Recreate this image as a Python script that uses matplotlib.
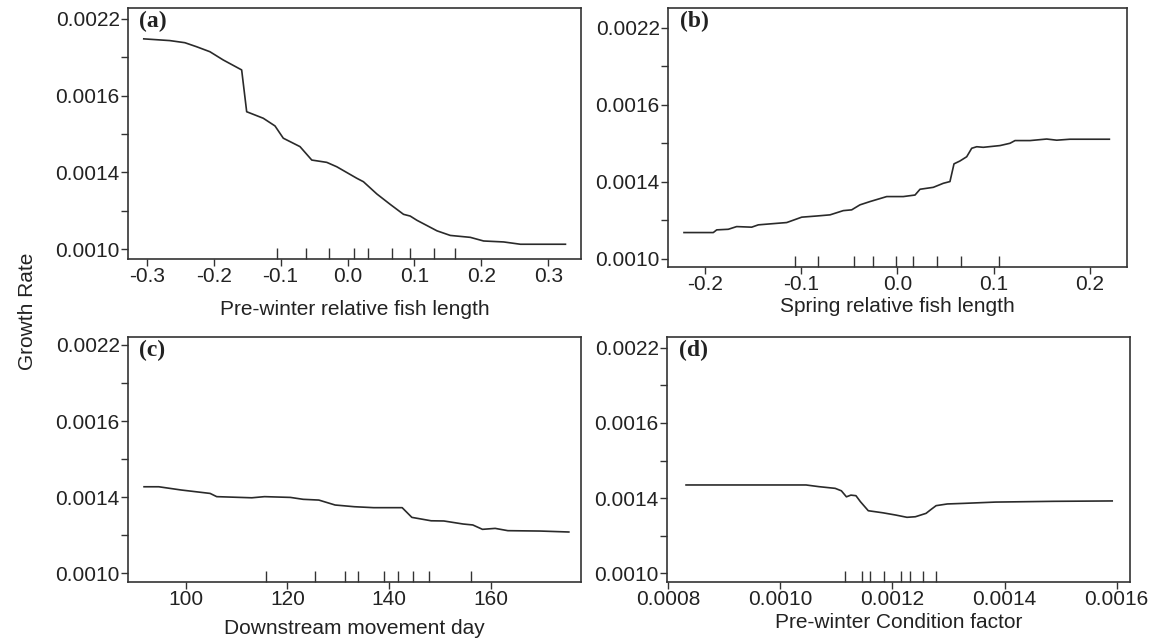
import numpy as np
import matplotlib
matplotlib.use("Agg")
import matplotlib.pyplot as plt
from matplotlib.ticker import FixedLocator

plt.rcParams['font.family'] = ['Liberation Sans', 'DejaVu Sans']

# y tick positions (equally spaced) and the labels as printed on the figure
Y_TICKS = [0.0010, 0.0014, 0.0018, 0.0022]
Y_LABELS = ['0.0010', '0.0014', '0.0016', '0.0022']
Y_MINOR = [0.0012, 0.0016, 0.0020]

# (a) pre-winter relative fish length
a_x = [-0.3045, -0.2656, -0.2431, -0.2256, -0.2057, -0.1858, -0.1582, -0.1507, -0.1259,
       -0.1084, -0.0960, -0.0710, -0.0534, -0.0310, -0.0160, 0.0139, 0.0238, 0.0439,
       0.0638, 0.0837, 0.0937, 0.1037, 0.1337, 0.1536, 0.1835, 0.2034, 0.2334, 0.2584, 0.3257]
a_y = [0.002096, 0.002087, 0.002076, 0.002055, 0.002029, 0.001986, 0.001934, 0.001716, 0.001682,
       0.001642, 0.001578, 0.001534, 0.001464, 0.001452, 0.001429, 0.001369, 0.001351, 0.001287,
       0.001233, 0.001181, 0.001172, 0.001150, 0.001095, 0.001071, 0.001061, 0.001042, 0.001037,
       0.001025, 0.001025]
a_rug = [-0.106, -0.062, -0.027, 0.010, 0.031, 0.067, 0.094, 0.130, 0.160]

# (b) spring relative fish length
b_x = [-0.2218, -0.1914, -0.1878, -0.1758, -0.1671, -0.1515, -0.1446, -0.1325, -0.1151, -0.0995,
       -0.0840, -0.0701, -0.0563, -0.0476, -0.0390, -0.0286, -0.0112, 0.0060, 0.0182, 0.0234,
       0.0372, 0.0476, 0.0545, 0.0587, 0.0649, 0.0719, 0.0771, 0.0823, 0.0891, 0.1065, 0.1169,
       0.1221, 0.1377, 0.1550, 0.1654, 0.1792, 0.2201]
b_y = [0.001137, 0.001137, 0.001151, 0.001154, 0.001168, 0.001165, 0.001177, 0.001182, 0.001189,
       0.001217, 0.001223, 0.001229, 0.001251, 0.001255, 0.001281, 0.001298, 0.001324, 0.001324,
       0.001332, 0.001362, 0.001372, 0.001393, 0.001402, 0.001494, 0.001509, 0.001531, 0.001575,
       0.001583, 0.001580, 0.001589, 0.001601, 0.001615, 0.001615, 0.001623, 0.001617, 0.001622,
       0.001622]
b_rug = [-0.1065, -0.0823, -0.0452, -0.0251, -0.0019, 0.0164, 0.0407, 0.0660, 0.1058]

# (c) downstream movement day
c_x = [91.8, 94.7, 99.1, 104.8, 106.1, 113.0, 115.5, 120.6, 123.1, 126.2, 129.4, 133.2,
       137.0, 142.6, 144.5, 148.3, 150.8, 154.6, 156.5, 158.4, 160.9, 163.4, 169.8, 175.4]
c_y = [0.001454, 0.001454, 0.001437, 0.001419, 0.001402, 0.001396, 0.001402, 0.001398,
       0.001388, 0.001384, 0.001358, 0.001349, 0.001344, 0.001344, 0.001293, 0.001275,
       0.001274, 0.001258, 0.001253, 0.001230, 0.001235, 0.001223, 0.001221, 0.001216]
c_rug = [115.8, 125.4, 131.3, 134.0, 139.1, 141.7, 144.8, 147.9, 156.1]

# (d) pre-winter condition factor
d_x = [0.000832, 0.001046, 0.001069, 0.001098, 0.001109, 0.001118, 0.001126, 0.001135,
       0.001143, 0.001157, 0.001183, 0.001206, 0.001226, 0.001241, 0.001260, 0.001269,
       0.001278, 0.001298, 0.001326, 0.001384, 0.001487, 0.001592]
d_y = [0.001470, 0.001470, 0.001461, 0.001452, 0.001439, 0.001407, 0.001416, 0.001413,
       0.001381, 0.001333, 0.001322, 0.001310, 0.001298, 0.001301, 0.001319, 0.001340,
       0.001360, 0.001369, 0.001372, 0.001379, 0.001383, 0.001385]
d_rug = [0.001115, 0.001146, 0.001160, 0.001185, 0.001200, 0.001216, 0.001231, 0.001255, 0.001277]

panels = [
    dict(tag='(a)', x=a_x, y=a_y, rug=a_rug, xlabel='Pre-winter relative fish length',
         xticks=[-0.3, -0.2, -0.1, 0.0, 0.1, 0.2, 0.3], fmt='{:.1f}',
         xlim=(-0.328, 0.349), ylim=(0.000948, 0.002257), lpad=10,
         pos=[0.1101, 0.5978, 0.3895, 0.3898]),
    dict(tag='(b)', x=b_x, y=b_y, rug=b_rug, xlabel='Spring relative fish length',
         xticks=[-0.2, -0.1, 0.0, 0.1, 0.2], fmt='{:.1f}',
         xlim=(-0.2384, 0.2385), ylim=(0.000958, 0.002304), lpad=2,
         pos=[0.5744, 0.5854, 0.3947, 0.4022]),
    dict(tag='(c)', x=c_x, y=c_y, rug=c_rug, xlabel='Downstream movement day',
         xticks=[100, 120, 140, 160], fmt='{:.0f}',
         xlim=(88.65, 177.8), ylim=(0.000953, 0.002242), lpad=7,
         pos=[0.1101, 0.0963, 0.3895, 0.3804]),
    dict(tag='(d)', x=d_x, y=d_y, rug=d_rug, xlabel='Pre-winter Condition factor',
         xticks=[0.0008, 0.0010, 0.0012, 0.0014, 0.0016], fmt='{:.4f}',
         xlim=(0.000798, 0.0016237), ylim=(0.000954, 0.002257), lpad=3,
         pos=[0.5735, 0.0963, 0.3981, 0.3804]),
]

fig = plt.figure(figsize=(11.63, 6.44), dpi=100)
txt = '#222222'

for p in panels:
    ax = fig.add_axes(p['pos'])
    ax.plot(p['x'], p['y'], color='#2a2a2a', lw=1.2)
    ax.set_xlim(*p['xlim'])
    ax.set_ylim(*p['ylim'])

    ax.set_yticks(Y_TICKS)
    ax.set_yticklabels(Y_LABELS)
    ax.yaxis.set_minor_locator(FixedLocator(Y_MINOR))
    ax.set_xticks(p['xticks'])
    ax.set_xticklabels([p['fmt'].format(v) for v in p['xticks']])
    ax.xaxis.set_minor_locator(FixedLocator(p['rug']))

    ax.tick_params(axis='both', which='major', direction='out', length=5, width=1,
                   labelsize=15, colors='#333333', labelcolor=txt, pad=1)
    ax.tick_params(axis='y', which='minor', direction='out', length=5, width=1, colors='#333333')
    ax.tick_params(axis='x', which='minor', direction='in', length=8, width=1, colors='#333333')
    for s in ax.spines.values():
        s.set_color('#333333')
        s.set_linewidth(1.2)

    ax.set_xlabel(p['xlabel'], fontsize=15, color=txt, labelpad=p['lpad'])
    ax.text(0.025, 0.99, p['tag'], transform=ax.transAxes, ha='left', va='top',
            fontsize=17, fontweight='bold', family='Liberation Serif', color=txt)

fig.text(0.024, 0.517, 'Growth Rate', rotation=90, ha='center', va='center',
         fontsize=15, color=txt)

fig.savefig('out.png', dpi=100, facecolor='white')
